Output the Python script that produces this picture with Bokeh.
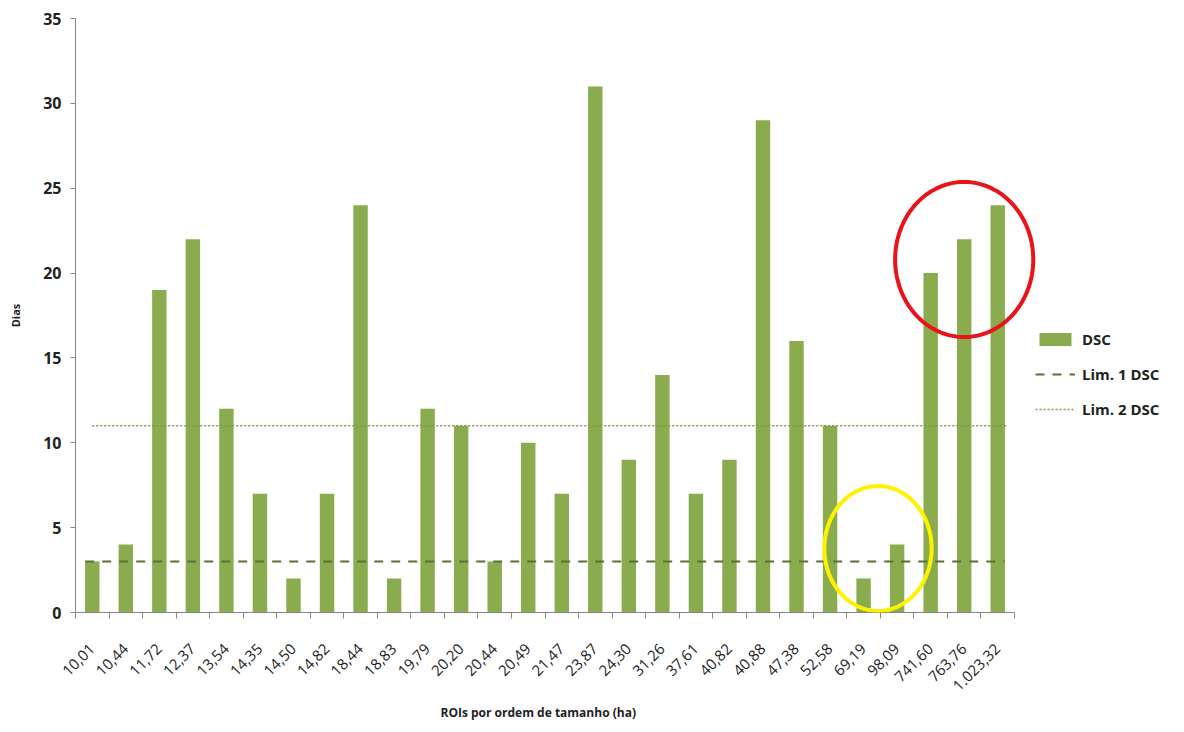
import math
from bokeh.plotting import figure
from bokeh.models import Range1d, FixedTicker, Legend, LegendItem, Title, PolyAnnotation
from bokeh.embed import file_html
from bokeh.resources import INLINE

# ---- data ----
categories = ["10,01", "10,44", "11,72", "12,37", "13,54", "14,35", "14,50", "14,82",
              "18,44", "18,83", "19,79", "20,20", "20,44", "20,49", "21,47", "23,87",
              "24,30", "31,26", "37,61", "40,82", "40,88", "47,38", "52,58", "69,19",
              "98,09", "741,60", "763,76", "1.023,32"]
dsc = [3, 4, 19, 22, 12, 7, 2, 7, 24, 2, 12, 11, 3, 10, 7, 31,
       9, 14, 7, 9, 29, 16, 11, 2, 4, 20, 22, 24]
lim1 = 3
lim2 = 11
y_ticks = [0, 5, 10, 15, 20, 25, 30, 35]

# highlight ellipses: centre (category index, days) and half-axes (category units, days)
red_center = (27.0, 20.8)
red_radii = (2.06, 4.57)
yellow_center = (24.43, 3.77)
yellow_radii = (1.6, 3.68)

n = len(categories)
xs = list(range(1, n + 1))

FONT = "Open Sans"
W, H = 1182, 730
ML, MR, MT = 75, 2, 18
MB = H - MT - 594
AXIS_W = 939  # pixel width of the category axis
frame_w = W - ML - MR
x_end = 0.5 + n * frame_w / AXIS_W

p = figure(width=W, height=H,
           x_range=Range1d(0.5, x_end), y_range=Range1d(0, 35),
           output_backend="svg", toolbar_location=None,
           min_border_left=ML, min_border_right=MR, min_border_top=MT, min_border_bottom=MB)
p.outline_line_color = None
p.grid.visible = False

bars = p.vbar(x=xs, top=dsc, width=0.43, fill_color="#8AAC4E", line_color=None)
l1 = p.line(x=[xs[0] - 0.21, xs[-1] + 0.2], y=[lim1, lim1], line_dash="9 8",
            line_width=2, line_color="#5A7034")
l2 = p.line(x=[xs[0], xs[-1] + 0.26], y=[lim2, lim2], line_dash="2 2",
            line_width=1.5, line_color="#7F9A4C")


def ellipse_pts(c, r, k=120):
    ex = [c[0] + r[0] * math.cos(2 * math.pi * i / k) for i in range(k)]
    ey = [c[1] + r[1] * math.sin(2 * math.pi * i / k) for i in range(k)]
    return ex, ey


for c, r, col in [(red_center, red_radii, "#E8131B"), (yellow_center, yellow_radii, "#FFF200")]:
    ex, ey = ellipse_pts(c, r)
    p.add_layout(PolyAnnotation(xs=ex, ys=ey, fill_alpha=0, line_color=col, line_alpha=1.0,
                                line_width=4))

# x axis
xa = p.xaxis[0]
xa.bounds = (0.5, n + 0.5)
xa.ticker = FixedTicker(ticks=xs, minor_ticks=[i + 0.5 for i in range(0, n + 1)])
xa.major_label_overrides = {i: c for i, c in zip(xs, categories)}
xa.major_tick_out = 0
xa.major_tick_in = 0
xa.minor_tick_out = 6
xa.minor_tick_in = 0
xa.minor_tick_line_color = "#868686"
xa.axis_line_color = "#868686"
xa.major_label_orientation = math.pi / 4
xa.major_label_text_font = FONT
xa.major_label_text_font_size = "15px"
xa.major_label_text_color = "#222222"
xa.major_label_standoff = 28

# y axis
ya = p.yaxis[0]
ya.ticker = FixedTicker(ticks=y_ticks, minor_ticks=[])
ya.major_tick_out = 5
ya.major_tick_in = 0
ya.major_tick_line_color = "#868686"
ya.axis_line_color = "#868686"
ya.major_label_text_font = FONT
ya.major_label_text_font_style = "bold"
ya.major_label_text_font_size = "16px"
ya.major_label_text_color = "#222222"
ya.major_label_standoff = 9
ya.axis_label = "Dias"
ya.axis_label_text_font = FONT
ya.axis_label_text_font_style = "bold"
ya.axis_label_text_font_size = "11px"
ya.axis_label_text_color = "#222222"
ya.axis_label_standoff = 17

title = Title(text="ROIs por ordem de tamanho (ha)", align="left", offset=365,
              text_font=FONT, text_font_size="12px", text_font_style="bold",
              text_color="#222222", standoff=7)
p.add_layout(title, "below")

legend = Legend(items=[LegendItem(label="DSC", renderers=[bars]),
                       LegendItem(label="Lim. 1 DSC", renderers=[l1]),
                       LegendItem(label="Lim. 2 DSC", renderers=[l2])],
                location=(960, 193), border_line_color=None, background_fill_alpha=0,
                label_text_font=FONT, label_text_font_style="bold", label_text_font_size="15px",
                label_text_color="#222222", label_standoff=7,
                glyph_width=40, glyph_height=16, label_height=20, spacing=15, padding=10, margin=0)
p.add_layout(legend, "center")

open("out.html", "w").write(file_html(p, INLINE))
